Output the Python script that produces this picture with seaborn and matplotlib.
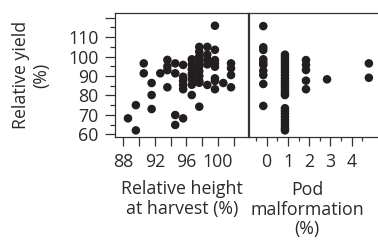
import matplotlib
matplotlib.use("Agg")
import matplotlib.pyplot as plt
import seaborn as sns
import numpy as np
import pandas as pd
from matplotlib.ticker import FixedLocator

# relative height at harvest (%) vs relative yield (%)
height = [88.6,
          89.6, 89.6,
          90.6, 90.6,
          91.6, 91.6, 91.6,
          92.7,
          93.6, 93.6, 93.6, 93.6,
          94.6, 94.6, 94.6, 94.6,
          95.6, 95.6, 95.6, 95.6, 95.6, 95.6,
          96.7, 96.7, 96.7, 96.7, 96.7, 96.7, 96.7,
          97.65, 97.65, 97.65, 97.65, 97.65, 97.65, 97.65, 97.65, 97.65, 97.65,
          98.67, 98.67, 98.67, 98.67, 98.67,
          99.64, 99.64, 99.64, 99.64, 99.64, 99.64, 99.64, 99.64,
          100.7,
          101.68, 101.68, 101.68, 101.68]
yield_h = [68.2,
           62.0, 75.0,
           96.5, 91.4,
           86.4, 80.2, 73.0,
           91.4,
           98.3, 95.0, 93.0, 84.2,
           96.5, 91.4, 69.9, 64.8,
           95.7, 89.6, 87.5, 85.4, 83.2, 68.2,
           98.6, 96.0, 93.5, 91.0, 88.5, 85.5, 80.2,
           105.0, 102.5, 100.0, 97.5, 95.0, 92.5, 90.0, 87.5, 86.5, 74.2,
           105.0, 101.0, 98.5, 96.0, 85.4,
           115.9, 103.5, 98.2, 96.5, 94.8, 88.8, 87.5, 83.2,
           86.4,
           96.5, 94.0, 90.5, 84.2]

# pod malformation (%) vs relative yield (%)
pod = ([-0.16] * 10 + [0.86] * 24 + [1.85] * 5 + [2.84] + [4.81] * 2)
yield_p = [115.7, 104.8, 103.4, 98.6, 97.0, 95.7, 92.7, 90.5, 85.9, 74.6,
           101.0, 99.5, 98.0, 96.5, 95.0, 93.5, 92.0, 90.5, 89.0, 87.5,
           86.0, 84.5, 83.0, 81.5, 80.2,
           73.4, 72.0, 70.5, 69.0, 67.5, 66.0, 64.5, 63.0, 62.0,
           98.2, 95.7, 93.1, 87.6, 83.2,
           88.3,
           96.5, 89.1]

df_h = pd.DataFrame({'height': height, 'yield': yield_h})
df_p = pd.DataFrame({'pod': pod, 'yield': yield_p})

sns.set_style("ticks")
plt.rcParams['font.family'] = ['Open Sans', 'DejaVu Sans']
fs = 12.8
dot = '#231f20'
edge = '#333333'
txt = '#2a2a2a'

fig = plt.figure(figsize=(3.78, 2.44), dpi=100)
ax1 = fig.add_axes([0.30423, 0.44016, 0.35317, 0.50533])
ax2 = fig.add_axes([0.65741, 0.44016, 0.34656, 0.50533])

sns.scatterplot(data=df_h, x='height', y='yield', ax=ax1, color=dot,
                s=38, edgecolor='none', legend=False)
sns.scatterplot(data=df_p, x='pod', y='yield', ax=ax2, color=dot,
                s=38, edgecolor='none', legend=False)

for ax in (ax1, ax2):
    ax.set_ylim(58.8, 122.3)
    for sp in ax.spines.values():
        sp.set_visible(True)
        sp.set_linewidth(0.9)
        sp.set_color(edge)
    ax.set_xlabel('')
    ax.set_ylabel('')

ax1.set_xlim(86.95, 103.9)
ax2.set_xlim(-0.856, 5.31)

# y axis on the left panel
ax1.yaxis.set_major_locator(FixedLocator(np.arange(60, 121, 10)))
ax1.set_yticklabels(['60', '70', '80', '90', '100', '110', ''])
ax1.yaxis.set_minor_locator(FixedLocator(np.arange(65, 120, 10)))
ax1.tick_params(axis='y', which='major', length=7.2, width=0.9, color=edge,
                labelsize=fs, pad=4.5, labelcolor=txt)
ax1.tick_params(axis='y', which='minor', length=3.6, width=0.9, color=edge)

ax1.xaxis.set_major_locator(FixedLocator([88, 92, 96, 100]))
ax1.xaxis.set_minor_locator(FixedLocator([90, 94, 98, 102]))
ax1.tick_params(axis='x', which='both', length=6.5, width=0.9, color=edge,
                labelsize=fs, pad=5, labelcolor=txt)

ax2.tick_params(axis='y', which='both', left=False, labelleft=False)
ax2.xaxis.set_major_locator(FixedLocator([0, 1, 2, 3, 4]))
ax2.xaxis.set_minor_locator(FixedLocator([-0.5, 0.5, 1.5, 2.5, 3.5, 4.5]))
ax2.tick_params(axis='x', which='major', length=6.5, width=0.9, color=edge,
                labelsize=fs, pad=5, labelcolor=txt)
ax2.tick_params(axis='x', which='minor', length=3, width=0.9, color=edge)

ax1.set_xlabel('Relative height\nat harvest (%)', fontsize=fs, linespacing=1.12,
               labelpad=7, color=txt)
fig.text(307 / 378, 1 - 181 / 244, 'Pod\nmalformation\n(%)', fontsize=fs,
         ha='center', va='top', linespacing=1.12, color=txt)
fig.text(31 / 378, 1 - 75 / 244, 'Relative yield\n(%)', fontsize=fs,
         ha='center', va='center', rotation=90, linespacing=1.12, color=txt)

fig.savefig('out.png', dpi=100)
